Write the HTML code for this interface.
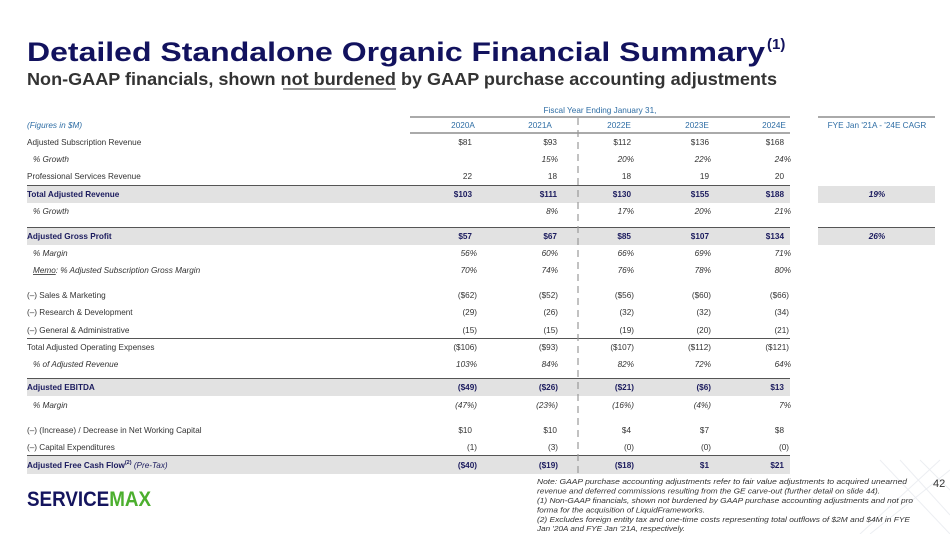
<!DOCTYPE html>
<html><head><meta charset="utf-8"><style>
html,body{margin:0;padding:0;background:#fff;}
svg{display:block;font-family:"Liberation Sans",sans-serif;}
.l{font-size:8.2px;fill:#333;}
.v{font-size:8.2px;fill:#333;text-anchor:end;}
.i{font-style:italic;}
.b{font-weight:bold;fill:#1b1b5e;}
.h{font-size:8.2px;fill:#2e6da4;text-anchor:middle;}
.n{font-size:7.4px;fill:#333;font-style:italic;}
</style></head><body>
<svg width="950" height="534" viewBox="0 0 950 534">
<rect width="950" height="534" fill="#fff"/>
<g stroke="#eceef2" stroke-width="1" fill="none">
<path d="M880 460 L950 534 M900 460 L950 515 M950 470 L870 534 M940 460 L860 534 M920 460 L950 490"/>
</g>
<text x="27" y="61" font-size="27" font-weight="bold" fill="#12125e" textLength="738" lengthAdjust="spacingAndGlyphs">Detailed Standalone Organic Financial Summary</text>
<text x="767" y="49" font-size="15" font-weight="bold" fill="#12125e">(1)</text>
<text x="27" y="85" font-size="17.5" font-weight="bold" fill="#333" textLength="750" lengthAdjust="spacingAndGlyphs">Non-GAAP financials, shown not burdened by GAAP purchase accounting adjustments</text>
<line x1="283" y1="89" x2="396" y2="89" stroke="#333" stroke-width="1"/>

<text x="600" y="113" class="h">Fiscal Year Ending January 31,</text>
<line x1="410" y1="117" x2="790" y2="117" stroke="#555" stroke-width="1"/>
<line x1="818" y1="117" x2="935" y2="117" stroke="#555" stroke-width="1"/>
<line x1="410" y1="133" x2="790" y2="133" stroke="#555" stroke-width="1"/>
<text x="27" y="128" class="h i" style="text-anchor:start">(Figures in $M)</text>
<text x="463" y="128" class="h">2020A</text>
<text x="540" y="128" class="h">2021A</text>
<text x="619" y="128" class="h">2022E</text>
<text x="697" y="128" class="h">2023E</text>
<text x="774" y="128" class="h">2024E</text>
<text x="877" y="128" class="h">FYE Jan '21A - '24E CAGR</text>

<g fill="#e2e2e2">
<rect x="27" y="186" width="763" height="17"/><rect x="818" y="186" width="117" height="17"/>
<rect x="27" y="228" width="763" height="17"/><rect x="818" y="228" width="117" height="17"/>
<rect x="27" y="379" width="763" height="17"/>
<rect x="27" y="456" width="763" height="18"/>
</g>
<g stroke="#555" stroke-width="1">
<line x1="27" y1="185.5" x2="790" y2="185.5"/>
<line x1="27" y1="227.5" x2="790" y2="227.5"/><line x1="818" y1="227.5" x2="935" y2="227.5"/>
<line x1="27" y1="338.5" x2="790" y2="338.5"/>
<line x1="27" y1="378.5" x2="790" y2="378.5"/>
<line x1="27" y1="455.5" x2="790" y2="455.5"/>
</g>
<line x1="578" y1="118" x2="578" y2="474" stroke="#999" stroke-width="1.2" stroke-dasharray="7,5"/>

<g>
<text x="27" y="145" class="l">Adjusted Subscription Revenue</text>
<text x="472" y="145" class="v">$81</text><text x="557" y="145" class="v">$93</text><text x="631" y="145" class="v">$112</text><text x="709" y="145" class="v">$136</text><text x="784" y="145" class="v">$168</text>

<text x="33" y="162" class="l i">% Growth</text>
<text x="558" y="162" class="v i">15%</text><text x="634" y="162" class="v i">20%</text><text x="711" y="162" class="v i">22%</text><text x="791" y="162" class="v i">24%</text>

<text x="27" y="179" class="l">Professional Services Revenue</text>
<text x="472" y="179" class="v">22</text><text x="557" y="179" class="v">18</text><text x="631" y="179" class="v">18</text><text x="709" y="179" class="v">19</text><text x="784" y="179" class="v">20</text>

<text x="27" y="197" class="l b">Total Adjusted Revenue</text>
<text x="472" y="197" class="v b">$103</text><text x="557" y="197" class="v b">$111</text><text x="631" y="197" class="v b">$130</text><text x="709" y="197" class="v b">$155</text><text x="784" y="197" class="v b">$188</text>
<text x="877" y="197" class="v b i" style="text-anchor:middle">19%</text>

<text x="33" y="214" class="l i">% Growth</text>
<text x="558" y="214" class="v i">8%</text><text x="634" y="214" class="v i">17%</text><text x="711" y="214" class="v i">20%</text><text x="791" y="214" class="v i">21%</text>

<text x="27" y="239" class="l b">Adjusted Gross Profit</text>
<text x="472" y="239" class="v b">$57</text><text x="557" y="239" class="v b">$67</text><text x="631" y="239" class="v b">$85</text><text x="709" y="239" class="v b">$107</text><text x="784" y="239" class="v b">$134</text>
<text x="877" y="239" class="v b i" style="text-anchor:middle">26%</text>

<text x="33" y="256" class="l i">% Margin</text>
<text x="477" y="256" class="v i">56%</text><text x="558" y="256" class="v i">60%</text><text x="634" y="256" class="v i">66%</text><text x="711" y="256" class="v i">69%</text><text x="791" y="256" class="v i">71%</text>

<text x="33" y="273" class="l i"><tspan text-decoration="underline">Memo</tspan>: % Adjusted Subscription Gross Margin</text>
<text x="477" y="273" class="v i">70%</text><text x="558" y="273" class="v i">74%</text><text x="634" y="273" class="v i">76%</text><text x="711" y="273" class="v i">78%</text><text x="791" y="273" class="v i">80%</text>

<text x="27" y="298" class="l">(–) Sales &amp; Marketing</text>
<text x="477" y="298" class="v">($62)</text><text x="558" y="298" class="v">($52)</text><text x="634" y="298" class="v">($56)</text><text x="711" y="298" class="v">($60)</text><text x="789" y="298" class="v">($66)</text>

<text x="27" y="315" class="l">(–) Research &amp; Development</text>
<text x="477" y="315" class="v">(29)</text><text x="558" y="315" class="v">(26)</text><text x="634" y="315" class="v">(32)</text><text x="711" y="315" class="v">(32)</text><text x="789" y="315" class="v">(34)</text>

<text x="27" y="333" class="l">(–) General &amp; Administrative</text>
<text x="477" y="333" class="v">(15)</text><text x="558" y="333" class="v">(15)</text><text x="634" y="333" class="v">(19)</text><text x="711" y="333" class="v">(20)</text><text x="789" y="333" class="v">(21)</text>

<text x="27" y="350" class="l">Total Adjusted Operating Expenses</text>
<text x="477" y="350" class="v">($106)</text><text x="558" y="350" class="v">($93)</text><text x="634" y="350" class="v">($107)</text><text x="711" y="350" class="v">($112)</text><text x="789" y="350" class="v">($121)</text>

<text x="33" y="367" class="l i">% of Adjusted Revenue</text>
<text x="477" y="367" class="v i">103%</text><text x="558" y="367" class="v i">84%</text><text x="634" y="367" class="v i">82%</text><text x="711" y="367" class="v i">72%</text><text x="791" y="367" class="v i">64%</text>

<text x="27" y="390" class="l b">Adjusted EBITDA</text>
<text x="477" y="390" class="v b">($49)</text><text x="558" y="390" class="v b">($26)</text><text x="634" y="390" class="v b">($21)</text><text x="711" y="390" class="v b">($6)</text><text x="784" y="390" class="v b">$13</text>

<text x="33" y="408" class="l i">% Margin</text>
<text x="477" y="408" class="v i">(47%)</text><text x="558" y="408" class="v i">(23%)</text><text x="634" y="408" class="v i">(16%)</text><text x="711" y="408" class="v i">(4%)</text><text x="791" y="408" class="v i">7%</text>

<text x="27" y="433" class="l">(–) (Increase) / Decrease in Net Working Capital</text>
<text x="472" y="433" class="v">$10</text><text x="557" y="433" class="v">$10</text><text x="631" y="433" class="v">$4</text><text x="709" y="433" class="v">$7</text><text x="784" y="433" class="v">$8</text>

<text x="27" y="450" class="l">(–) Capital Expenditures</text>
<text x="477" y="450" class="v">(1)</text><text x="558" y="450" class="v">(3)</text><text x="634" y="450" class="v">(0)</text><text x="711" y="450" class="v">(0)</text><text x="789" y="450" class="v">(0)</text>

<text x="27" y="468" class="l b">Adjusted Free Cash Flow<tspan font-size="5.5" dy="-4">(2)</tspan><tspan dy="4" font-weight="normal" font-style="italic"> (Pre-Tax)</tspan></text>
<text x="477" y="468" class="v b">($40)</text><text x="558" y="468" class="v b">($19)</text><text x="634" y="468" class="v b">($18)</text><text x="709" y="468" class="v b">$1</text><text x="784" y="468" class="v b">$21</text>
</g>

<text x="27" y="506" font-size="21" font-weight="bold" textLength="124" lengthAdjust="spacingAndGlyphs"><tspan fill="#14145e">SERVICE</tspan><tspan fill="#4caf2e">MAX</tspan></text>

<text x="537" y="484" class="n" textLength="370" lengthAdjust="spacingAndGlyphs">Note: GAAP purchase accounting adjustments refer to fair value adjustments to acquired unearned</text>
<text x="537" y="493.5" class="n" textLength="343" lengthAdjust="spacingAndGlyphs">revenue and deferred commissions resulting from the GE carve-out (further detail on slide 44).</text>
<text x="537" y="503" class="n" textLength="376" lengthAdjust="spacingAndGlyphs">(1) Non-GAAP financials, shown not burdened by GAAP purchase accounting adjustments and not pro</text>
<text x="537" y="512.5" class="n" textLength="168" lengthAdjust="spacingAndGlyphs">forma for the acquisition of LiquidFrameworks.</text>
<text x="537" y="522" class="n" textLength="373" lengthAdjust="spacingAndGlyphs">(2) Excludes foreign entity tax and one-time costs representing total outflows of $2M and $4M in FYE</text>
<text x="537" y="531" class="n" textLength="148" lengthAdjust="spacingAndGlyphs">Jan '20A and FYE Jan '21A, respectively.</text>
<text x="933" y="487" font-size="11" fill="#333">42</text>
</svg>
</body></html>
